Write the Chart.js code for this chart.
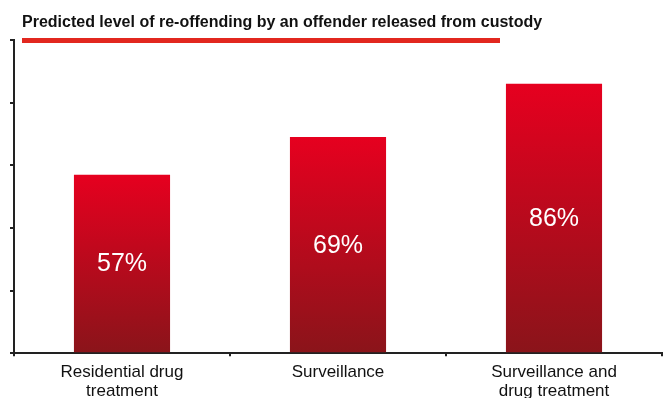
<!DOCTYPE html>
<html>
<head>
<meta charset="utf-8">
<script src="https://cdn.jsdelivr.net/npm/chart.js@4/dist/chart.umd.min.js"></script>
<style>
html,body{margin:0;padding:0;background:#fff;}
#wrap{width:664px;height:398px;position:relative;}
</style>
</head>
<body>
<div id="wrap"><canvas id="c" width="664" height="398"></canvas></div>
<script>
const chartTitle = "Predicted level of re-offending by an offender released from custody";
const categories = [["Residential drug", "treatment"], ["Surveillance"], ["Surveillance and", "drug treatment"]];
const reoffendValues = [57, 69, 86];
const valueLabels = ["57%", "69%", "86%"];
const yTicks = [0, 20, 40, 60, 80, 100];

const FONT = "'Liberation Sans', Arial, Helvetica, sans-serif";

function barGradient(ctx) {
  const chart = ctx.chart;
  const area = chart.chartArea;
  if (!area || ctx.dataIndex === undefined) return '#c00a1e';
  const y = chart.scales.y;
  const top = y.getPixelForValue(reoffendValues[ctx.dataIndex]);
  const bottom = y.getPixelForValue(0);
  const g = chart.ctx.createLinearGradient(0, top, 0, bottom);
  g.addColorStop(0, '#e6001f');
  g.addColorStop(1, '#8a141a');
  return g;
}

const decor = {
  id: 'decor',
  afterDraw(chart) {
    const c = chart.ctx;
    c.save();
    // title
    c.fillStyle = '#111';
    c.font = "bold 16px " + FONT;
    c.textBaseline = 'alphabetic';
    c.textAlign = 'left';
    c.fillText(chartTitle, 22, 27);
    // red rule
    c.fillStyle = '#e2271f';
    c.fillRect(22, 38, 478, 5);
    // value labels
    const meta = chart.getDatasetMeta(0);
    c.fillStyle = '#fff';
    c.font = "25px " + FONT;
    c.textAlign = 'center';
    c.textBaseline = 'middle';
    meta.data.forEach((bar, i) => {
      const p = bar.getProps(['x', 'y', 'base'], true);
      c.fillText(valueLabels[i], p.x, (p.y + p.base) / 2 + 1);
    });
    c.restore();
  }
};

new Chart(document.getElementById('c'), {
  type: 'bar',
  data: {
    labels: categories,
    datasets: [{
      data: reoffendValues,
      backgroundColor: barGradient,
      borderWidth: 0,
      barPercentage: 0.445,
      categoryPercentage: 1
    }]
  },
  options: {
    responsive: false,
    animation: false,
    devicePixelRatio: 1,
    layout: { padding: { left: 10, right: 2, top: 40, bottom: -9 } },
    plugins: { legend: { display: false }, tooltip: { enabled: false }, title: { display: false } },
    scales: {
      x: {
        grid: { display: true, drawOnChartArea: false, drawTicks: true, tickLength: 3, color: '#222', lineWidth: 2, offset: true },
        border: { display: true, color: '#222', width: 2 },
        ticks: { color: '#111', font: { family: FONT, size: 17, lineHeight: 1.08 }, padding: 7, maxRotation: 0, autoSkip: false }
      },
      y: {
        min: 0,
        max: 100,
        afterBuildTicks(scale) { scale.ticks = yTicks.map(v => ({ value: v })); },
        grid: { display: true, drawOnChartArea: false, drawTicks: true, tickLength: 4, color: '#222', lineWidth: 2 },
        border: { display: true, color: '#222', width: 2 },
        ticks: { display: false }
      }
    }
  },
  plugins: [decor]
});
</script>
</body>
</html>
